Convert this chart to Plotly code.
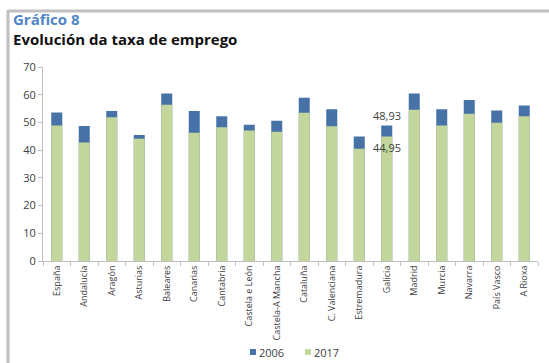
import plotly.graph_objects as go

regions = ["España", "Andalucía", "Aragón", "Asturias", "Baleares", "Canarias", "Cantabria",
           "Castela e León", "Castela-A Mancha", "Cataluña", "C. Valenciana", "Estremadura",
           "Galicia", "Madrid", "Murcia", "Navarra", "País Vasco", "A Rioxa"]
v2006 = [53.6, 48.7, 54.1, 45.5, 60.4, 54.1, 52.2, 49.2, 50.6, 58.9, 54.8, 44.9,
         48.93, 60.4, 54.8, 58.1, 54.3, 56.1]
v2017 = [48.9, 42.8, 51.9, 44.1, 56.4, 46.3, 48.3, 47.1, 46.6, 53.5, 48.6, 40.5,
         44.95, 54.6, 48.9, 53.1, 49.9, 52.2]
yticks = [0, 10, 20, 30, 40, 50, 60, 70]
series_names = ["2006", "2017"]
colors = ["#4672a8", "#c3d69b"]

W, H = 549, 363
L, R, T, B = 43, 11, 67, 102
pw, ph = W - L - R, H - T - B

def px(x):
    return (x - L) / pw

def py(y):
    return (H - B - y) / ph

fig = go.Figure()
for name, vals, col in zip(series_names, [v2006, v2017], colors):
    fig.add_trace(go.Bar(x=regions, y=vals, name=name, marker_color=col,
                         marker_line_width=0, showlegend=False))

gi = regions.index("Galicia")
fig.add_annotation(x=regions[gi], y=v2006[gi], text=f"{v2006[gi]:.2f}".replace(".", ","),
                   showarrow=False, yshift=10, font=dict(size=11, color="#404040", family="Open Sans"))
fig.add_annotation(x=regions[gi], y=v2017[gi], text=f"{v2017[gi]:.2f}".replace(".", ","),
                   showarrow=False, yshift=-11, font=dict(size=11, color="#404040", family="Open Sans"))

fig.add_annotation(xref="paper", yref="paper", x=px(11), y=py(19), xanchor="left", yanchor="middle",
                   text="<b>Gráfico 8</b>", showarrow=False,
                   font=dict(size=15, color="#4f86c6", family="Open Sans"))
fig.add_annotation(xref="paper", yref="paper", x=px(11), y=py(39), xanchor="left", yanchor="middle",
                   text="<b>Evolución da taxa de emprego</b>", showarrow=False,
                   font=dict(size=15, color="#111111", family="Open Sans"))

# custom legend
for i, (name, col) in enumerate(zip(series_names, colors)):
    x0 = 250 + i * 55
    fig.add_shape(type="rect", xref="paper", yref="paper", x0=px(x0), x1=px(x0 + 6),
                  y0=py(355), y1=py(349), fillcolor=col, line_width=0)
    fig.add_annotation(xref="paper", yref="paper", x=px(x0 + 7), y=py(352), xanchor="left",
                       yanchor="middle", text=name, showarrow=False,
                       font=dict(size=11, color="#404040", family="Open Sans"))

# frame lines (top and left)
fig.add_shape(type="line", xref="paper", yref="paper", x0=px(8), x1=px(W + 5), y0=py(11), y1=py(11),
              line=dict(color="#c0c0c0", width=3))
fig.add_shape(type="line", xref="paper", yref="paper", x0=px(8), x1=px(8), y0=py(10), y1=py(H + 5),
              line=dict(color="#c0c0c0", width=3))

fig.update_layout(
    width=W, height=H,
    margin=dict(l=L, r=R, t=T, b=B, autoexpand=False),
    barmode="overlay",
    bargap=0.6,
    plot_bgcolor="white", paper_bgcolor="white",
    font=dict(family="Open Sans", color="#595959"),
    showlegend=False,
    xaxis=dict(showline=True, linecolor="#bfbfbf", ticks="outside", tickcolor="#bfbfbf",
               ticklen=4, tickangle=-90, tickfont=dict(size=9, color="#404040"),
               tickson="boundaries", showgrid=False, automargin=False),
    yaxis=dict(range=[0, 70], tickvals=yticks, showline=True, linecolor="#bfbfbf",
               ticks="outside", tickcolor="#bfbfbf", ticklen=4, showgrid=False,
               tickfont=dict(size=11, color="#404040"), zeroline=False, automargin=False),
)
fig.write_html("out.html")
